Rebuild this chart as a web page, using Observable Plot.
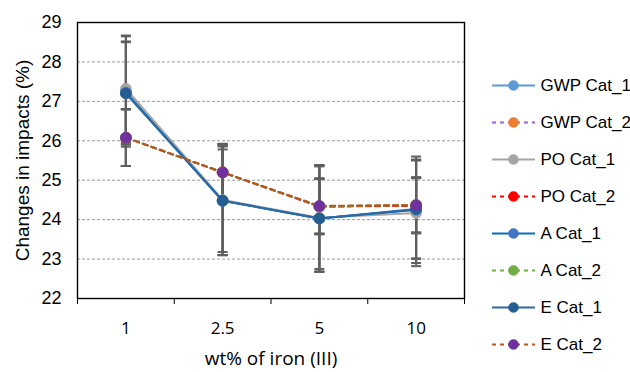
<!DOCTYPE html>
<html>
<head>
<meta charset="utf-8">
<script src="https://cdn.jsdelivr.net/npm/d3@7"></script>
<script src="https://cdn.jsdelivr.net/npm/@observablehq/plot@0.6"></script>
<style>
  html, body { margin: 0; padding: 0; background: #fff; }
  #wrap { position: relative; width: 630px; height: 372px; overflow: hidden; }
  #legend { position: absolute; left: 480px; top: 0; }
  #chart { position: absolute; left: 0; top: 0; }
</style>
</head>
<body>
<div id="wrap"><div id="chart"></div><div id="legend"></div></div>
<script>
// ---- data ----
const xLabels = ["1", "2.5", "5", "10"];
const yTicks = [22, 23, 24, 25, 26, 27, 28, 29];
const seriesNames = ["GWP Cat_1", "GWP Cat_2", "PO Cat_1", "PO Cat_2", "A Cat_1", "A Cat_2", "E Cat_1", "E Cat_2"];

const gwpCat1 = [27.25, 24.48, 24.03, 24.25];
const gwpCat2 = [26.08, 25.20, 24.33, 24.37];
const poCat1  = [27.32, 24.50, 24.05, 24.17];
const poCat2  = [26.08, 25.20, 24.33, 24.35];
const aCat1   = [27.22, 24.48, 24.03, 24.25];
const aCat2   = [26.08, 25.20, 24.34, 24.37];
const eCat1   = [27.20, 24.48, 24.03, 24.27];
const eCat2   = [26.08, 25.20, 24.35, 24.37];

const gwpCat1Err = [1.40, 1.30, 1.35, 1.35];
const gwpCat2Err = [0.72, 0.72, 0.70, 0.70];
const poCat1Err  = [1.35, 1.40, 1.30, 1.35];
const poCat2Err  = [0.72, 0.72, 0.70, 0.70];
const aCat1Err   = [1.30, 1.38, 1.35, 1.25];
const aCat2Err   = [0.72, 0.72, 0.70, 0.70];
const eCat1Err   = [1.30, 1.38, 1.35, 1.25];
const eCat2Err   = [0.72, 0.72, 0.70, 0.70];

const seriesValues = [gwpCat1, gwpCat2, poCat1, poCat2, aCat1, aCat2, eCat1, eCat2];
const seriesErrors = [gwpCat1Err, gwpCat2Err, poCat1Err, poCat2Err, aCat1Err, aCat2Err, eCat1Err, eCat2Err];

// ---- styles ----
const lineColors   = ["#5b9bd5", "#9467c9", "#a5a5a5", "#ff0000", "#0070c0", "#70ad47", "#2d69a3", "#b8591c"];
const markerColors = ["#5b9bd5", "#ed7d31", "#a5a5a5", "#ff0000", "#4472c4", "#70ad47", "#255e91", "#7030a0"];
const dashed       = [false, true, false, true, false, true, false, true];

const rows = [];
seriesNames.forEach((name, s) => {
  seriesValues[s].forEach((v, i) => {
    const e = seriesErrors[s][i];
    rows.push({series: name, s, xi: i + 0.5, v, lo: v - e, hi: v + e});
  });
});

const capSymbol = {
  draw(ctx, size) {
    const w = Math.sqrt(size / Math.PI);
    ctx.moveTo(-w, 0);
    ctx.lineTo(w, 0);
  }
};

const sansA = "'Liberation Sans', Arial, sans-serif";
const sansB = "'Open Sans', sans-serif";
const errColor = "#5f5f5f";
const marks = [
  Plot.gridY(yTicks.filter(t => t > 22 && t < 29), {stroke: "#9a9a9a", strokeOpacity: 1, strokeDasharray: "3,2", strokeWidth: 1}),
  Plot.axisY({ticks: yTicks, tickSize: 0, tickPadding: 16, tickFormat: d3.format("d"),
    label: "Changes in impacts (%)", labelAnchor: "center", labelArrow: "none", labelOffset: 62}),
  Plot.axisX({ticks: [0, 1, 2, 3, 4], tickFormat: () => "", tickSize: 6, stroke: "#000", label: null}),
  Plot.axisX({ticks: [0.5, 1.5, 2.5, 3.5], tickSize: 0, tickPadding: 23,
    tickFormat: d => xLabels[Math.floor(d)], label: "wt% of iron (III)", labelAnchor: "center", labelArrow: "none", labelOffset: 66}),
  Plot.ruleX(rows, {x: "xi", y1: "lo", y2: "hi", stroke: errColor, strokeWidth: 2}),
  Plot.dot(rows, {x: "xi", y: "lo", symbol: capSymbol, r: 5, stroke: errColor, strokeWidth: 2}),
  Plot.dot(rows, {x: "xi", y: "hi", symbol: capSymbol, r: 5, stroke: errColor, strokeWidth: 2})
];
seriesNames.forEach((name, s) => {
  const data = rows.filter(d => d.s === s);
  marks.push(Plot.line(data, {x: "xi", y: "v", stroke: lineColors[s], strokeWidth: 2, strokeDasharray: dashed[s] ? "5,4" : null}));
  marks.push(Plot.dot(data, {x: "xi", y: "v", r: 5.4, fill: markerColors[s], stroke: markerColors[s], strokeWidth: 0.8}));
});
marks.push(Plot.frame({stroke: "#000", strokeWidth: 1.4}));

const chart = Plot.plot({
  width: 630, height: 372,
  marginLeft: 77, marginRight: 166, marginTop: 22, marginBottom: 74,
  style: {fontFamily: sansA, color: "#000", background: "#fff"},
  x: {type: "linear", domain: [0, 4]},
  y: {domain: [22, 29]},
  marks
});
document.getElementById("chart").append(chart);

// text styling of the axes: classify every text by its content
const svg = d3.select(chart);
svg.selectAll("text").each(function () {
  const t = this.textContent;
  const sel = d3.select(this);
  if (t === "Changes in impacts (%)") sel.style("font-size", "19px").style("font-family", sansA);
  else if (t === "wt% of iron (III)") sel.style("font-size", "19px").style("font-family", sansB);
  else if (xLabels.includes(t)) sel.style("font-size", "17px").style("font-family", sansB);
  else if (/^\d\d$/.test(t)) sel.style("font-size", "18px").style("font-family", sansA);
});

// ---- legend ----
const legendMarks = [];
seriesNames.forEach((name, s) => {
  legendMarks.push(Plot.ruleY([name], {y: d => d, x1: () => 12, x2: () => 55, stroke: lineColors[s], strokeWidth: 2,
    strokeDasharray: dashed[s] ? "4,4" : null}));
  legendMarks.push(Plot.dot([name], {y: d => d, x: () => 33, r: 5, fill: markerColors[s], stroke: markerColors[s], strokeWidth: 0.5}));
});
legendMarks.push(Plot.text(seriesNames, {y: d => d, x: () => 60, text: d => d, textAnchor: "start", fontSize: 17, fill: "#000"}));

const legend = Plot.plot({
  width: 150, height: 372,
  margin: 0,
  style: {fontFamily: sansA, background: "transparent"},
  x: {domain: [0, 150], range: [0, 150], axis: null},
  y: {type: "point", domain: seriesNames, range: [65, 364], axis: null},
  marks: legendMarks
});
document.getElementById("legend").append(legend);
</script>
</body>
</html>
